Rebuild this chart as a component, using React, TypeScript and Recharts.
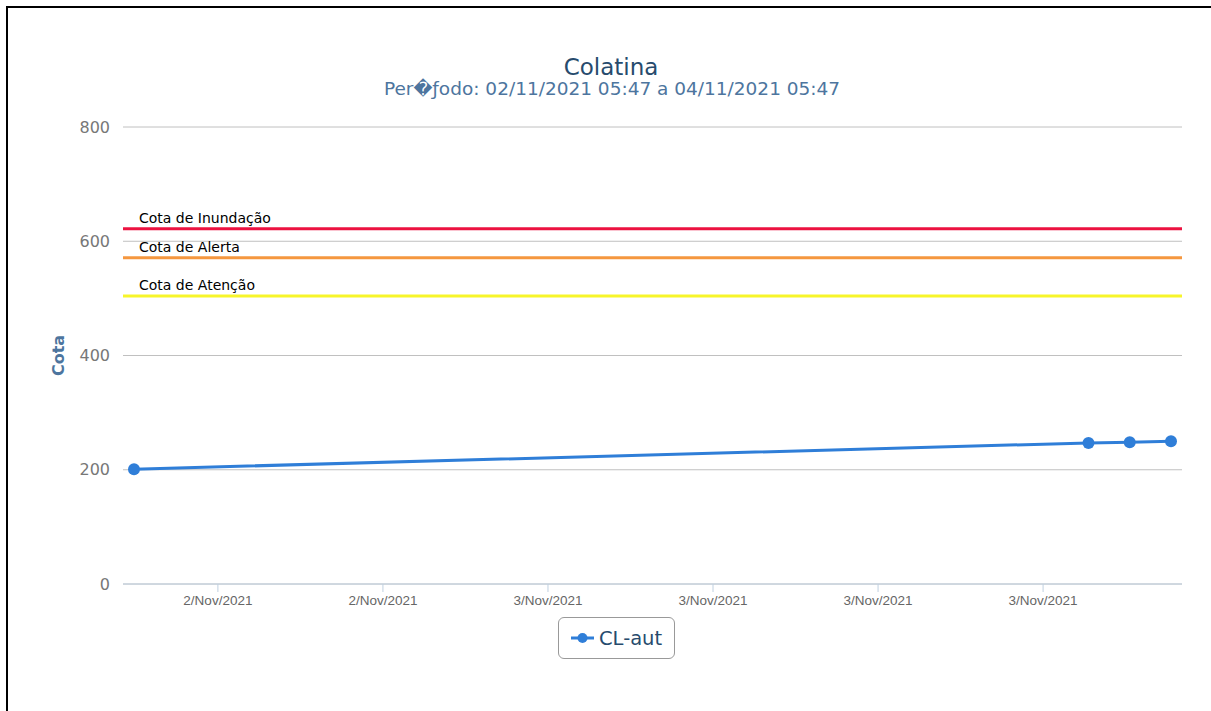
import React from 'react';
import { LineChart, Line, XAxis, YAxis, CartesianGrid, ReferenceLine } from 'recharts';

// horas contadas a partir de 02/11/2021 00:00
const horas = [8.95, 43.65, 45.15, 46.65];
const cotas = [201, 247, 248, 250];

const xTicks = [12, 18, 24, 30, 36, 42];
const yTicks = [0, 200, 400, 600, 800];

const limiteNomes = ['Cota de Inundação', 'Cota de Alerta', 'Cota de Atenção'];
const limiteValores = [622, 571, 504];
const limiteCores = ['#ec1240', '#f5973f', '#f7f52a'];

const SERIE_COR = '#2f7ed8';
const FONT = '"DejaVu Sans", Verdana, sans-serif';

const data = horas.map((t, i) => ({ t, cota: cotas[i] }));

const formatDia = (h: number) => (h < 24 ? '2/Nov/2021' : '3/Nov/2021');

export default function App() {
    return (
        <div style={{ position: 'absolute', left: 0, top: 0, width: 1211, height: 711, background: '#fff', overflow: 'hidden' }}>
            <div style={{ position: 'absolute', left: 6, top: 6, right: 0, bottom: 0, borderTop: '2px solid #000', borderLeft: '2px solid #000' }} />

            {/* Titulo */}
            <div style={{ position: 'absolute', left: 0, width: 1222, top: 56, height: 23, lineHeight: '23px', textAlign: 'center', fontFamily: FONT, fontSize: 23, color: '#274b6d' }}>
                Colatina
            </div>
            <div style={{ position: 'absolute', left: 0, width: 1224, top: 80, height: 18, lineHeight: '18px', textAlign: 'center', fontFamily: FONT, fontSize: 18.5, color: '#4d759e' }}>
                Per{'\uFFFD'}ƒodo: 02/11/2021 05:47 a 04/11/2021 05:47
            </div>

            <div style={{ position: 'absolute', left: 0, top: 0 }}>
                <LineChart width={1211} height={711} data={data} margin={{ top: 127, right: 29, bottom: 97, left: 63 }}>
                    <CartesianGrid horizontal vertical={false} stroke="#C0C0C0" />
                    <XAxis
                        dataKey="t"
                        type="number"
                        domain={[8.55, 47.05]}
                        ticks={xTicks}
                        tickFormatter={formatDia}
                        stroke="#C0D0E0"
                        tickSize={8}
                        tickMargin={3}
                        height={30}
                        tick={{ fill: '#666', fontSize: 13.5, fontFamily: '"Liberation Sans", Arial, sans-serif' }}
                        allowDataOverflow
                    />
                    <YAxis
                        type="number"
                        domain={[0, 800]}
                        ticks={yTicks}
                        width={60}
                        axisLine={false}
                        tickLine={false}
                        tickSize={8}
                        tickMargin={5}
                        tick={{ fill: '#777', fontSize: 16, fontFamily: FONT }}
                        label={{
                            value: 'Cota', angle: -90, position: 'insideLeft', offset: -5,
                            style: { fill: '#4d759e', fontSize: 16, fontWeight: 'bold', fontFamily: FONT, textAnchor: 'middle' },
                        }}
                    />
                    {limiteValores.map((v, i) => (
                        <ReferenceLine
                            key={limiteNomes[i]}
                            y={v}
                            stroke={limiteCores[i]}
                            strokeWidth={3}
                            label={(props: any) => (
                                <text x={props.viewBox.x + 16} y={props.viewBox.y - 6} fill="#000" fontSize={14} fontFamily={FONT}>
                                    {limiteNomes[i]}
                                </text>
                            )}
                        />
                    ))}
                    <Line
                        type="linear"
                        dataKey="cota"
                        stroke={SERIE_COR}
                        strokeWidth={3}
                        dot={{ r: 6, fill: SERIE_COR, stroke: 'none' }}
                        activeDot={false}
                        isAnimationActive={false}
                    />
                </LineChart>
            </div>

            {/* Legenda */}
            <div style={{
                position: 'absolute', left: 558, top: 617, width: 117, height: 42, boxSizing: 'border-box',
                border: '1px solid #999', borderRadius: 6, display: 'flex', alignItems: 'center', fontFamily: FONT,
            }}>
                <svg width={40} height={20} style={{ marginLeft: 10 }}>
                    <line x1={2} y1={10} x2={25} y2={10} stroke={SERIE_COR} strokeWidth={3} />
                    <circle cx={13.5} cy={10} r={5} fill={SERIE_COR} />
                </svg>
                <span style={{ marginLeft: -10, fontSize: 19.5, color: '#274b6d' }}>CL-aut</span>
            </div>
        </div>
    );
}
